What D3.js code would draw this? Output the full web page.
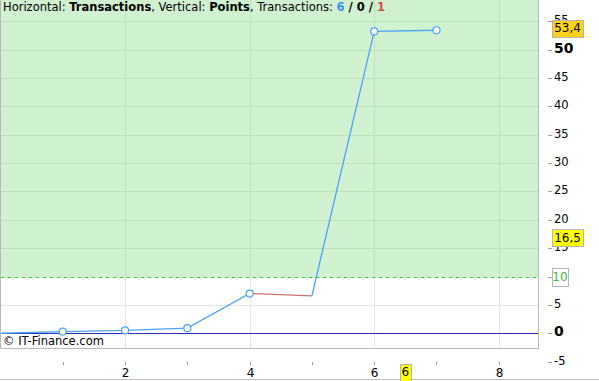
<!DOCTYPE html>
<html>
<head>
<meta charset="utf-8">
<script src="https://cdn.jsdelivr.net/npm/d3@7"></script>
<style>
  body { margin: 0; background: #fff; }
  svg { display: block; font-family: Tahoma, "DejaVu Sans", sans-serif; }
</style>
</head>
<body>
<svg id="chart" width="599" height="381"></svg>
<script>
// data
const transactions = [0, 1, 2, 3, 4, 5, 6, 7];
const points = [0, 0.3, 0.5, 0.9, 7.0, 6.6, 53.2, 53.4];
const xTicks = [1, 2, 3, 4, 5, 6, 7, 8];
const yTicks = [-5, 0, 5, 10, 15, 20, 25, 30, 35, 40, 45, 50, 55];
const boldYTicks = [0, 50];
const level = 10;
const counts = [6, 0, 1];

const svg = d3.select("#chart");
const W = 599, H = 381;
const plot = { left: 0.5, right: 538, top: 0, bottom: 348 };

const x = d3.scaleLinear().domain([0, 8.63]).range([plot.left, plot.right]);
const y = d3.scaleLinear().domain([-2.6, 58.73]).range([plot.bottom, plot.top]);

// green zone above level
svg.append("rect")
    .attr("x", plot.left).attr("y", plot.top)
    .attr("width", plot.right - plot.left)
    .attr("height", Math.round(y(level)) - plot.top)
    .attr("fill", "#d0f2d0");

// grid lines
const gridY = yTicks.filter(d => d > -2.6 && d !== level);
svg.append("g").selectAll("line")
    .data(gridY)
    .enter().append("line")
    .attr("x1", plot.left).attr("x2", plot.right)
    .attr("y1", d => Math.round(y(d)) + 0.5)
    .attr("y2", d => Math.round(y(d)) + 0.5)
    .style("stroke", d => d > level ? "#bde3bd" : "#e6e6e6");

[2, 4, 6, 8].forEach(t => {
    const xx = Math.round(x(t)) + 0.5;
    svg.append("line")
        .attr("x1", xx).attr("x2", xx).attr("y1", plot.top).attr("y2", y(level))
        .style("stroke", "#bde3bd");
    svg.append("line")
        .attr("x1", xx).attr("x2", xx).attr("y1", y(level)).attr("y2", plot.bottom)
        .style("stroke", "#e6e6e6");
});

// zero line
svg.append("line")
    .attr("x1", plot.left).attr("x2", plot.right)
    .attr("y1", Math.round(y(0)) + 0.5).attr("y2", Math.round(y(0)) + 0.5)
    .style("stroke", "#2b2bb5");

// level dashed line
svg.append("line")
    .attr("x1", plot.left).attr("x2", plot.right)
    .attr("y1", Math.round(y(level)) + 0.5).attr("y2", Math.round(y(level)) + 0.5)
    .style("stroke", "#33d633")
    .style("stroke-width", 1.2)
    .style("stroke-dasharray", "4,3");

// series segments, blue going up, red going down
const segs = d3.pairs(transactions.map((t, i) => ({ t: t, v: points[i] })));
svg.append("g").selectAll("line")
    .data(segs)
    .enter().append("line")
    .attr("x1", d => x(d[0].t)).attr("y1", d => y(d[0].v))
    .attr("x2", d => x(d[1].t)).attr("y2", d => y(d[1].v))
    .style("stroke", d => d[1].v >= d[0].v ? "#4aa3f5" : "#cc7070")
    .style("stroke-width", 1.3);

// markers on winning trades
const marks = transactions.map((t, i) => ({ t: t, v: points[i], up: i > 0 && points[i] >= points[i - 1] }))
    .filter(d => d.up);
svg.append("g").selectAll("circle")
    .data(marks)
    .enter().append("circle")
    .attr("cx", d => x(d.t)).attr("cy", d => y(d.v))
    .attr("r", 3.5)
    .style("fill", "#fff")
    .style("stroke", "#4aa3f5")
    .style("stroke-width", 1.2);

// plot frame
svg.append("path")
    .attr("d", `M0.5,0 V${plot.bottom + 0.5} H${plot.right + 0.5} V0`)
    .style("fill", "none")
    .style("stroke", "#b8b8b8");
svg.append("line")
    .attr("x1", 0).attr("x2", W).attr("y1", 379.5).attr("y2", 379.5)
    .style("stroke", "#c0c0c0");

// right axis
const ya = svg.append("g");
yTicks.forEach(t => {
    const yy = Math.round(y(t)) + 0.5;
    ya.append("line")
        .attr("x1", 548).attr("x2", 552).attr("y1", yy).attr("y2", yy)
        .style("stroke", "#a0a0a0");
    const bold = boldYTicks.includes(t);
    ya.append("text")
        .attr("x", 554).attr("y", yy - 2)
        .attr("dy", "0.35em")
        .style("font-size", bold ? "14px" : "11.5px")
        .style("font-weight", bold ? "bold" : "normal")
        .style("fill", t === level ? "#3cb83c" : "#000")
        .text(t);
});

// bottom axis
const xa = svg.append("g");
xTicks.forEach(t => {
    const xx = Math.round(x(t)) + 0.5;
    xa.append("line")
        .attr("x1", xx).attr("x2", xx).attr("y1", 362).attr("y2", 365)
        .style("stroke", "#a0a0a0");
    if (t % 2 === 0) {
        xa.append("text")
            .attr("x", xx).attr("y", 373)
            .attr("dy", "0.35em")
            .attr("text-anchor", "middle")
            .style("font-size", "12px")
            .text(t);
    }
});

// value boxes
function box(cx, cy, w, h, fill, label, color, anchor) {
    const g = svg.append("g");
    const x0 = anchor === "middle" ? cx - w / 2 : cx;
    g.append("rect")
        .attr("x", Math.round(x0) + 0.5).attr("y", Math.round(cy - h / 2) + 0.5)
        .attr("width", w).attr("height", h)
        .style("fill", fill).style("stroke", "#b4b4b4");
    g.append("text")
        .attr("x", x0 + w / 2).attr("y", cy)
        .attr("dy", "0.35em")
        .attr("text-anchor", "middle")
        .style("font-size", "12px")
        .style("fill", color)
        .text(label);
}
const last = points[points.length - 1];
box(552, y(last) - 2, 31, 17, "#ffd21a", String(last).replace(".", ","), "#000");
box(552, y(16.5) - 2, 31, 17, "#ffff00", "16,5", "#000");
box(552, y(level), 16, 18, "#fff", String(level), "#3cb83c");
box(x(6.5), 372, 11, 17, "#ffff00", String(counts[0]), "#000", "middle");

// caption
const cap = svg.append("text")
    .attr("x", 3).attr("y", 11)
    .style("font-size", "11.5px");
cap.append("tspan").text("Horizontal: ");
cap.append("tspan").style("font-weight", "bold").text("Transactions");
cap.append("tspan").text(", Vertical: ");
cap.append("tspan").style("font-weight", "bold").text("Points");
cap.append("tspan").text(", Transactions: ");
cap.append("tspan").style("font-weight", "bold").style("fill", "#3b8ff0").text(counts[0]);
cap.append("tspan").style("font-weight", "bold").text(" / " + counts[1] + " / ");
cap.append("tspan").style("font-weight", "bold").style("fill", "#d05050").text(counts[2]);

svg.append("text")
    .attr("x", 3).attr("y", 341)
    .attr("dy", "0.35em")
    .style("font-size", "11.5px")
    .text("© IT-Finance.com");
</script>
</body>
</html>
